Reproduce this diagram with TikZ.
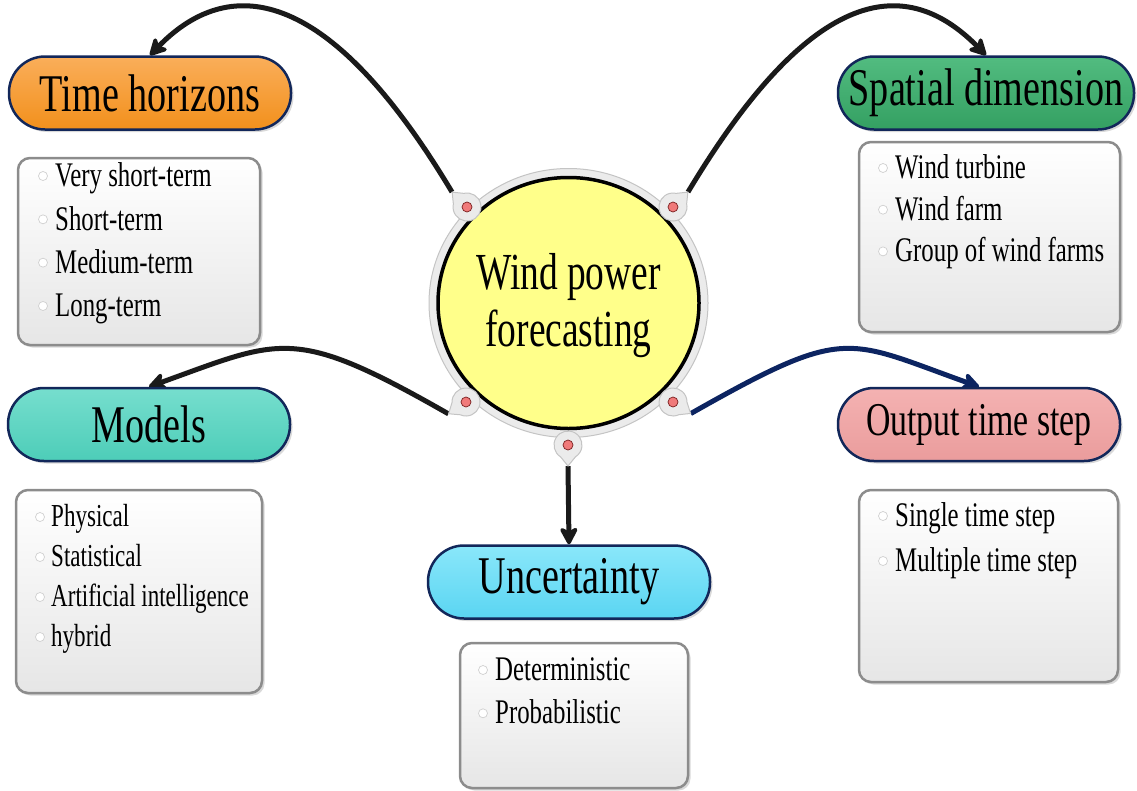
\documentclass[tikz,border=0pt]{standalone}
\usepackage{fontspec}
\setmainfont{Liberation Serif}[FakeStretch=0.72]
\usetikzlibrary{arrows.meta,shadows,shapes.geometric,backgrounds}

\definecolor{headline}{HTML}{12275A}
\definecolor{orangeTop}{HTML}{FAAE5A}
\definecolor{orangeBot}{HTML}{F2901C}
\definecolor{greenTop}{HTML}{52BC80}
\definecolor{greenBot}{HTML}{34A062}
\definecolor{tealTop}{HTML}{76DECE}
\definecolor{tealBot}{HTML}{4DCDB8}
\definecolor{pinkTop}{HTML}{F4B2B2}
\definecolor{pinkBot}{HTML}{EA9C9C}
\definecolor{cyanTop}{HTML}{8AE7FA}
\definecolor{cyanBot}{HTML}{5AD5F2}
\definecolor{boxedge}{HTML}{8C8C8C}
\definecolor{boxbot}{HTML}{E6E6E6}
\definecolor{ringfill}{HTML}{EBEBEB}
\definecolor{ringedge}{HTML}{C4C4C4}
\definecolor{hubyellow}{HTML}{FFFF8A}
\definecolor{dotred}{HTML}{F07A7A}
\definecolor{dotedge}{HTML}{7A2020}
\definecolor{linkblack}{HTML}{1A1A1A}
\definecolor{linknavy}{HTML}{0C2461}
\definecolor{bulletedge}{HTML}{D0D0D0}

\tikzset{
  head/.style={rectangle, draw=headline, line width=2.5pt, rounded corners=36pt,
    minimum width=282pt, minimum height=73pt, inner sep=0pt,
    font=\fontsize{53}{60}\selectfont,
    drop shadow={shadow xshift=2.5pt, shadow yshift=-2.5pt, opacity=0.3}},
  listbox/.style={rectangle, draw=boxedge, line width=2.5pt, rounded corners=12pt,
    top color=white, bottom color=boxbot, inner sep=0pt,
    drop shadow={shadow xshift=2.5pt, shadow yshift=-2.5pt, opacity=0.3}},
  item/.style={anchor=base west, inner sep=0pt, font=\fontsize{34.5}{40}\selectfont},
  smallitem/.style={item, font=\fontsize{32}{38}\selectfont},
  bul/.style={circle, draw=bulletedge, line width=0.7pt, fill=white,
    minimum size=9pt, inner sep=0pt},
  portzone/.style={circle, minimum size=42pt, inner sep=0pt},
  portdot/.style={circle, fill=dotred, draw=dotedge, line width=0.7pt,
    minimum size=10pt, inner sep=0pt},
  pics/porttear/.style={code={
    \draw[fill=ringfill, draw=ringedge, line width=1pt]
      (0:21) -- (32:14) arc[start angle=32, end angle=328, radius=14] -- cycle;}},
  conn/.style={draw=linkblack, line width=5pt,
    -{Stealth[length=21pt, width=22pt, inset=6pt, round]}},
}

\begin{document}
\begin{tikzpicture}[x=1pt, y=-1pt]
\useasboundingbox (0,0) rectangle (1137,790);

% item lists
\node[listbox, minimum width=242pt, minimum height=187pt] (thl) at (139,251.5) {};
\node[listbox, minimum width=261pt, minimum height=190pt] (sdl) at (989.5,237) {};
\node[listbox, minimum width=246pt, minimum height=203pt] (mol) at (139,591.5) {};
\node[listbox, minimum width=259pt, minimum height=192pt] (otl) at (988.5,586) {};
\node[listbox, minimum width=228pt, minimum height=145pt] (unl) at (574,715.5) {};

\foreach \t [count=\i] in {Very short-term, Short-term, Medium-term, Long-term} {
  \node[item] (th-\i) at (55,{186.7+43.33*(\i-1)}) {\t};
  \node[bul] (thb-\i) at (43,{176+43.33*(\i-1)}) {};
}
\foreach \t [count=\i] in {Wind turbine, Wind farm, Group of wind farms} {
  \node[item] (sd-\i) at (895,{178.3+41.7*(\i-1)}) {\t};
  \node[bul] (sdb-\i) at (883,{168+41.7*(\i-1)}) {};
}
\foreach \t [count=\i] in {Physical, Statistical, Artificial intelligence, hybrid} {
  \node[smallitem] (mo-\i) at (51,{526.7+40*(\i-1)}) {\t};
  \node[bul] (mob-\i) at (40,{517+40*(\i-1)}) {};
}
\foreach \t [count=\i] in {Single time step, Multiple time step} {
  \node[item] (ot-\i) at (895,{526.7+45*(\i-1)}) {\t};
  \node[bul] (otb-\i) at (883,{516+45*(\i-1)}) {};
}
\foreach \t [count=\i] in {Deterministic, Probabilistic} {
  \node[item] (un-\i) at (495,{680+43.3*(\i-1)}) {\t};
  \node[bul] (unb-\i) at (483,{670+43.3*(\i-1)}) {};
}

% category headers
\node[head, top color=orangeTop, bottom color=orangeBot] (th) at (150,93) {Time horizons};
\node[head, top color=greenTop, bottom color=greenBot, minimum width=296pt] (sd) at (986,93) {Spatial dimension};
\node[head, top color=tealTop, bottom color=tealBot] (mo) at (149,424.5) {Models};
\node[head, top color=pinkTop, bottom color=pinkBot, font=\fontsize{47}{54}\selectfont] (ot) at (979,424.5) {Output time step};
\node[head, top color=cyanTop, bottom color=cyanBot] (un) at (569,582) {Uncertainty};

% central hub
\node[ellipse, minimum width=279pt, minimum height=269pt, inner sep=0pt,
  fill=ringfill, draw=ringedge, line width=1pt] (ring) at (568.5,303) {};
\node[ellipse, minimum width=261pt, minimum height=251pt, inner sep=0pt,
  fill=hubyellow, draw=black, line width=3.5pt] (hub) at (568.5,303) {};
\node[align=center, font=\fontsize{52}{57}\selectfont] (hubtext) at (568.5,306) {Wind power\\forecasting};

% connection ports on the ring
\node[portzone] (p1) at (467,207) {};
\node[portzone] (p2) at (673,207) {};
\node[portzone] (p3) at (466,402) {};
\node[portzone] (p4) at (673,402) {};
\node[portzone] (p5) at (568,445) {};
\pic[rotate=135] at (p1) {porttear};
\pic[rotate=45]  at (p2) {porttear};
\pic[rotate=214] at (p3) {porttear};
\pic[rotate=-33] at (p4) {porttear};
\pic[rotate=270] at (p5) {porttear};
\node[portdot] (d1) at (p1) {};
\node[portdot] (d2) at (p2) {};
\node[portdot] (d3) at (p3) {};
\node[portdot] (d4) at (p4) {};
\node[portdot] (d5) at (p5) {};

% connectors
\begin{pgfonlayer}{background}
\draw[conn] (p1.135) .. controls (319,-30) and (221,-18) .. (th.north);
\draw[conn] (p2.45) .. controls (821,-30) and (914,-18) .. (sd.north);
\draw[conn] (p3.214) .. controls (293,325) and (282,339) .. (mo.north);
\draw[conn, draw=linknavy] (p4.-33) .. controls (847,325) and (845,339) .. (ot.north);
\draw[conn] (p5.270) -- (un.north);
\end{pgfonlayer}
\end{tikzpicture}
\end{document}
